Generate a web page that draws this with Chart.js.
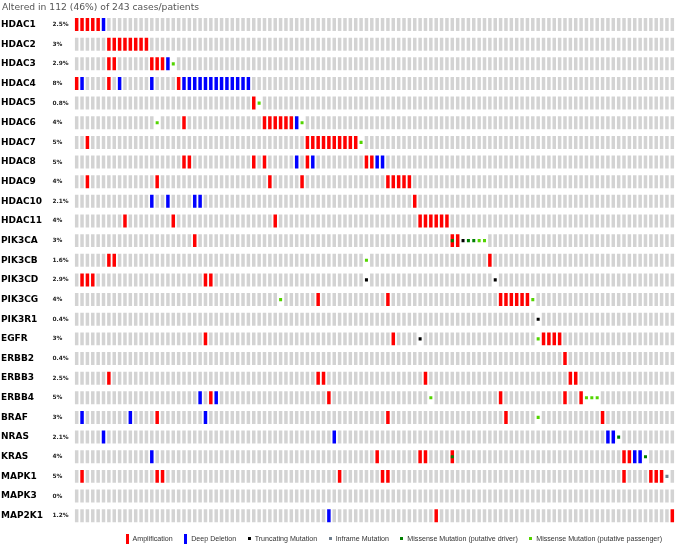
<!DOCTYPE html>
<html>
<head>
<meta charset="utf-8">
<script src="https://cdn.jsdelivr.net/npm/chart.js@4.4.1/dist/chart.umd.min.js"></script>
<style>
  body { margin: 0; background: #fff; }
  #wrap { position: relative; width: 675px; height: 545px; }
  #title { position: absolute; left: 2px; top: 1px; font: 9.2px 'DejaVu Sans'; color: #555; line-height: 11px; white-space: nowrap; }
  #legend { position: absolute; left: 125.5px; top: 533px; height: 11px; display: flex; align-items: center; gap: 11.5px;
            font: 7.1px 'Liberation Sans'; color: #333; white-space: nowrap; }
  .item { display: flex; align-items: center; }
  .mk { display: inline-block; margin-right: 4px; }
  .bar { width: 3px; height: 10px; }
  .sq { width: 3px; height: 3px; }
</style>
</head>
<body>
<div id="wrap">
  <canvas id="oncoprint" width="675" height="545"></canvas>
  <div id="title">Altered in 112 (46%) of 243 cases/patients</div>
  <div id="legend"></div>
</div>
<script>
// genes (rows) and the altered-% label next to each
const genes = ['HDAC1', 'HDAC2', 'HDAC3', 'HDAC4', 'HDAC5', 'HDAC6', 'HDAC7', 'HDAC8', 'HDAC9', 'HDAC10', 'HDAC11',
    'PIK3CA', 'PIK3CB', 'PIK3CD', 'PIK3CG', 'PIK3R1', 'EGFR', 'ERBB2', 'ERBB3', 'ERBB4',
    'BRAF', 'NRAS', 'KRAS', 'MAPK1', 'MAPK3', 'MAP2K1'];
const percents = ['2.5%', '3%', '2.9%', '8%', '0.8%', '4%', '5%', '5%', '4%', '2.1%', '4%',
    '3%', '1.6%', '2.9%', '4%', '0.4%', '3%', '0.4%', '2.5%', '5%',
    '3%', '2.1%', '4%', '5%', '0%', '1.2%'];
const caseCount = 112;

// altered case columns per gene (same order as genes)
const amplification = [
    [0, 1, 2, 3, 4],
    [6, 7, 8, 9, 10, 11, 12, 13],
    [6, 7, 14, 15, 16],
    [0, 6, 19],
    [33],
    [20, 35, 36, 37, 38, 39, 40],
    [2, 43, 44, 45, 46, 47, 48, 49, 50, 51, 52],
    [20, 21, 33, 35, 43, 54, 55],
    [2, 15, 36, 42, 58, 59, 60, 61, 62],
    [63],
    [9, 18, 37, 64, 65, 66, 67, 68, 69],
    [22, 70, 71],
    [6, 7, 77],
    [1, 2, 3, 24, 25],
    [45, 58, 79, 80, 81, 82, 83, 84],
    [],
    [24, 59, 87, 88, 89, 90],
    [91],
    [6, 45, 46, 65, 92, 93],
    [25, 47, 79, 91, 94],
    [15, 58, 80, 98],
    [],
    [56, 64, 65, 70, 102, 103],
    [1, 15, 16, 49, 57, 58, 102, 107, 108, 109],
    [],
    [67, 111]
];
const deepDeletion = [
    [5], [], [17], [1, 8, 14, 20, 21, 22, 23, 24, 25, 26, 27, 28, 29, 30, 31, 32], [], [41], [], [41, 44, 56, 57], [],
    [14, 17, 22, 23], [], [], [], [], [], [], [], [], [], [23, 26], [1, 10, 24], [5, 48, 99, 100], [14, 104, 105],
    [], [], [47]
];

// mutations as [gene, case]
const truncating = [['PIK3CA', 72], ['PIK3CD', 54], ['PIK3CD', 78], ['PIK3R1', 86], ['EGFR', 64]];
const inframe = [['MAPK1', 110]];
const missenseDriver = [['PIK3CA', 70], ['PIK3CA', 73], ['PIK3CA', 74], ['NRAS', 101], ['KRAS', 70], ['KRAS', 106]];
const missensePassenger = [['HDAC3', 18], ['HDAC5', 34], ['HDAC6', 15], ['HDAC6', 42], ['HDAC7', 53],
    ['PIK3CA', 75], ['PIK3CA', 76], ['PIK3CB', 54], ['PIK3CG', 38], ['PIK3CG', 85], ['EGFR', 86],
    ['ERBB4', 66], ['ERBB4', 95], ['ERBB4', 96], ['ERBB4', 97], ['BRAF', 86]];

const legendItems = [
    ['Amplification', '#ff0000', 'bar'],
    ['Deep Deletion', '#0000ff', 'bar'],
    ['Truncating Mutation', '#000000', 'sq'],
    ['Inframe Mutation', '#708090', 'sq'],
    ['Missense Mutation (putative driver)', '#008000', 'sq'],
    ['Missense Mutation (putative passenger)', '#53d400', 'sq']
];

let fullHalf = 0.33;
let mutHalf = 0.08;

let toPairs = (perGene) => {
    let out = [];
    perGene.forEach((cols, g) => cols.forEach(c => out.push([genes[g], c])));
    return out;
}

let cellBars = (pairs, half) => {
    return pairs.map(([g, c]) => {
        let r = genes.indexOf(g);
        return { x: c, y: [r - half, r + half] };
    });
}

let ampPairs = toPairs(amplification);
let delPairs = toPairs(deepDeletion);
let allMut = truncating.concat(inframe, missenseDriver, missensePassenger);
let taken = new Set(ampPairs.concat(delPairs, allMut).map(([g, c]) => g + ':' + c));

let grayPairs = [];
genes.forEach(g => {
    for (let c = 0; c < caseCount; c++) {
        if (!taken.has(g + ':' + c)) grayPairs.push([g, c]);
    }
});

let mkBar = (label, pairs, half, color, thick, order) => ({
    label: label,
    data: cellBars(pairs, half),
    backgroundColor: color,
    borderWidth: 0,
    barThickness: thick,
    inflateAmount: 0,
    grouped: false,
    order: order
});

let rowTicks = (scale) => {
    scale.ticks = genes.map((g, i) => ({ value: i }));
}

new Chart(document.getElementById('oncoprint').getContext('2d'), {
    type: 'bar',
    data: {
        datasets: [
            mkBar('Not altered', grayPairs, fullHalf, '#d3d3d3', 3.5, 3),
            mkBar('Amplification', ampPairs, fullHalf, '#ff0000', 3.5, 2),
            mkBar('Deep Deletion', delPairs, fullHalf, '#0000ff', 3.5, 2),
            mkBar('Truncating Mutation', truncating, mutHalf, '#000000', 3, 1),
            mkBar('Inframe Mutation', inframe, mutHalf, '#708090', 3, 1),
            mkBar('Missense Mutation (putative driver)', missenseDriver, mutHalf, '#008000', 3, 1),
            mkBar('Missense Mutation (putative passenger)', missensePassenger, mutHalf, '#53d400', 3, 1)
        ]
    },
    options: {
        responsive: false,
        animation: false,
        events: [],
        layout: { padding: { left: 1, right: 0, top: 14.7, bottom: 19.5 } },
        plugins: { legend: { display: false }, tooltip: { enabled: false } },
        scales: {
            x: { type: 'linear', offset: false, min: -0.5, max: caseCount - 0.5, display: false },
            y: {
                type: 'linear', position: 'left', reverse: true, min: -0.5, max: genes.length - 0.5,
                weight: 10,
                afterBuildTicks: rowTicks,
                afterFit: (s) => { s.width = 51.5; },
                grid: { display: false }, border: { display: false },
                ticks: {
                    autoSkip: false, padding: 0, crossAlign: 'far', color: '#000',
                    font: { family: 'DejaVu Sans', size: 9, weight: 'bold' },
                    callback: (v, i) => genes[i]
                }
            },
            pct: {
                type: 'linear', position: 'left', reverse: true, min: -0.5, max: genes.length - 0.5,
                weight: 5,
                afterBuildTicks: rowTicks,
                afterFit: (s) => { s.width = 21.5; },
                grid: { display: false }, border: { display: false },
                ticks: {
                    autoSkip: false, padding: 0, crossAlign: 'far', color: '#222',
                    font: { family: 'DejaVu Sans', size: 5.8, weight: 'bold' },
                    callback: (v, i) => percents[i]
                }
            }
        }
    }
});

// legend under the grid
let legend = document.getElementById('legend');
legendItems.forEach(([text, color, kind]) => {
    let item = document.createElement('span');
    item.className = 'item';
    item.innerHTML = `<span class="mk ${kind}" style="background:${color}"></span><span>${text}</span>`;
    legend.appendChild(item);
});
</script>
</body>
</html>
